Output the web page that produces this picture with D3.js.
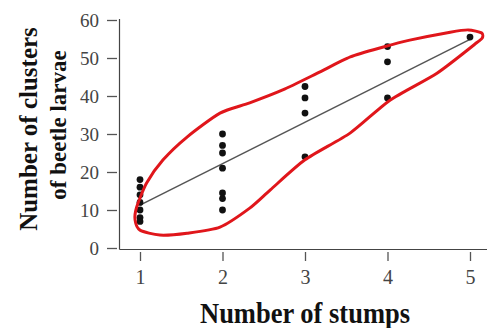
<!DOCTYPE html>
<html><head><meta charset="utf-8">
<script src="https://cdn.jsdelivr.net/npm/d3@7"></script>
<style>body{margin:0;background:#fff}svg{display:block}</style>
</head><body>
<svg id="c" width="487" height="328"></svg>
<script>
// Data
const stumps = [1,1,1,1,1,1,1, 2,2,2,2,2,2,2, 3,3,3,3, 4,4,4, 5];
const clusters = [18,16,14,12,10,8,7, 30,27,25,21,14.5,13,10, 42.5,39.5,35.5,24, 53,49,39.5, 55.5];
const xTicks = [1,2,3,4,5];
const yTicks = [0,10,20,30,40,50,60];
const fitIntercept = 0.4;
const fitSlope = 10.9;
// Hand-drawn red outline (data coordinates)
const outlineX = [0.94,1.0,1.24,1.57,1.97,2.33,2.58,3.0,3.55,4.03,4.6,5.08,5.15,5.14,4.98,4.76,4.27,3.95,3.55,3.15,2.73,2.33,1.97,1.57,1.28,1.08,0.96];
const outlineY = [7.4,4.7,3.4,3.9,5.5,10.5,15.3,23.2,30.3,38.9,46,54,55.3,56.6,57.4,56.8,54.7,52.9,50.3,46,41.6,38.2,35.5,29.2,23.2,17.1,10.8];

const svg = d3.select("#c");
const x = d3.scaleLinear().domain([1,5]).range([140,470]);
const y = d3.scaleLinear().domain([0,60]).range([248,20]);
const serif = "'Liberation Serif','DejaVu Serif',serif";

// axis lines
svg.append("line").attr("x1",119.5).attr("x2",119.5).attr("y1",19).attr("y2",249.5).attr("stroke","#444").attr("stroke-width",1.2);
svg.append("line").attr("x1",119.5).attr("x2",487).attr("y1",249.5).attr("y2",249.5).attr("stroke","#444").attr("stroke-width",1.2);

const gx = svg.append("g").attr("transform","translate(0,252)")
  .call(d3.axisBottom(x).tickValues(xTicks).tickSize(9).tickPadding(9).tickFormat(d3.format("d")));
gx.select(".domain").remove();
gx.selectAll("line").attr("stroke","#555").attr("stroke-width",1.3);
gx.selectAll("text").attr("font-family",serif).attr("font-size",20).attr("fill","#444");

const gy = svg.append("g").attr("transform","translate(117,0)")
  .call(d3.axisLeft(y).tickValues(yTicks).tickSize(10).tickPadding(8));
gy.select(".domain").remove();
gy.selectAll("line").attr("stroke","#555").attr("stroke-width",1.3);
gy.selectAll("text").attr("font-family",serif).attr("font-size",19).attr("fill","#444");

// regression line
svg.append("line")
  .attr("x1",x(1)).attr("y1",y(fitIntercept+fitSlope*1))
  .attr("x2",x(5)).attr("y2",y(fitIntercept+fitSlope*5))
  .attr("stroke","#555").attr("stroke-width",1.5);

// points
svg.append("g").selectAll("circle").data(stumps.map((s,i)=>[s,clusters[i]])).join("circle")
  .attr("cx",d=>x(d[0])).attr("cy",d=>y(d[1])).attr("r",3.4).attr("fill","#111");

// red outline
const pts = outlineX.map((v,i)=>[v,outlineY[i]]);
svg.append("path").datum(pts)
  .attr("d", d3.line().x(d=>x(d[0])).y(d=>y(d[1])).curve(d3.curveCardinalClosed.tension(0.3)))
  .attr("fill","none").attr("stroke","#e0161b").attr("stroke-width",3);

// titles
svg.append("text").attr("transform","translate(305,323) scale(1,1.12)").attr("text-anchor","middle")
  .attr("font-family",serif).attr("font-weight","bold").attr("font-size",26).attr("fill","#111")
  .attr("textLength",210).attr("lengthAdjust","spacingAndGlyphs")
  .text("Number of stumps");
svg.append("text").attr("transform","translate(37,129) rotate(-90)").attr("text-anchor","middle")
  .attr("font-family",serif).attr("font-weight","bold").attr("font-size",25).attr("fill","#111")
  .text("Number of clusters");
svg.append("text").attr("transform","translate(66,125) rotate(-90)").attr("text-anchor","middle")
  .attr("font-family",serif).attr("font-weight","bold").attr("font-size",23).attr("fill","#111")
  .text("of beetle larvae");
</script>
</body></html>
